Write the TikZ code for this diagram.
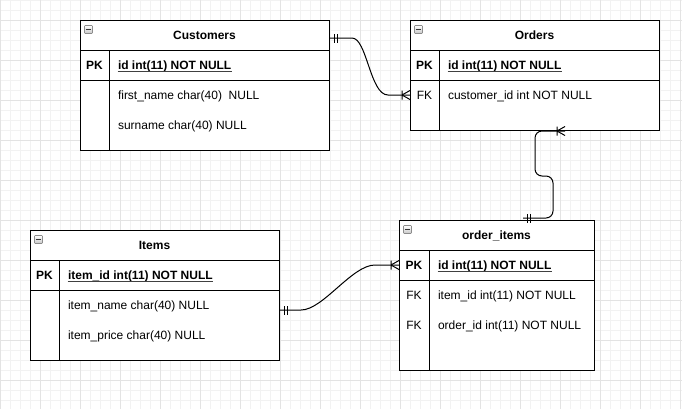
\documentclass[tikz,border=0pt]{standalone}
\usepackage{fontspec}
\setmainfont{Liberation Sans}
\usetikzlibrary{calc,decorations.markings}
\newcommand\erfont{\fontsize{12bp}{14bp}\selectfont}

\tikzset{
  gridminor/.style={draw=black!5,line width=0.6bp},
  gridmajor/.style={draw=black!11,line width=0.6bp},
  tbl/.style={draw,fill=white,anchor=north west,inner sep=0pt},
  title/.style={font=\erfont\bfseries,text height=8.6bp,text depth=0bp,inner sep=0pt},
  pkcell/.style={font=\erfont\bfseries,text height=8.6bp,text depth=0bp,inner sep=0pt},
  fkcell/.style={font=\erfont,text height=8.6bp,text depth=0bp,inner sep=0pt},
  pkfield/.style={anchor=west,font=\erfont\bfseries,text height=8.6bp,text depth=0bp,inner sep=0pt,
    append after command={([yshift=-1.8bp]\tikzlastnode.south west)
      edge[line width=0.8bp,black!75] ([yshift=-1.8bp]\tikzlastnode.south east)}},
  field/.style={anchor=west,font=\erfont,text height=8.6bp,text depth=0bp,inner sep=0pt},
  toggle/.style={draw=black!45,line width=0.6bp,rounded corners=0.8bp,
    top color=white,bottom color=black!22,minimum size=8bp,inner sep=0pt,
    path picture={\draw[line width=1bp,black!80]
      ([xshift=-2.6bp]path picture bounding box.center) --
      ([xshift=2.6bp]path picture bounding box.center);}},
  onestart/.style={postaction={decorate,decoration={markings,
    mark=at position 4.5bp with {\draw[line width=1bp] (0,-4.5bp) -- (0,4.5bp);},
    mark=at position 7.5bp with {\draw[line width=1bp] (0,-4.5bp) -- (0,4.5bp);}}}},
  manyend/.style={postaction={decorate,decoration={markings,
    mark=at position -8bp with {\draw[line width=1bp] (0,-4.5bp) -- (0,4.5bp)
      (0,0) -- (8bp,4.5bp) (0,0) -- (8bp,-4.5bp);}}}}
}

\begin{document}
\begin{tikzpicture}[x=1bp,y=-1bp,line width=1bp]
  \useasboundingbox (0,0) rectangle (682,409);
  \fill[white] (0,0) rectangle (682,409);
  % background grid
  \foreach \x in {0,10,...,680} \draw[gridminor] (\x,0) -- (\x,409);
  \foreach \y in {0,10,...,400} \draw[gridminor] (0,\y) -- (682,\y);
  \foreach \x in {0,40,...,680} \draw[gridmajor] (\x,0) -- (\x,409);
  \foreach \y in {20,60,...,400} \draw[gridmajor] (0,\y) -- (682,\y);

  % Customers
  \node[tbl,minimum width=249bp,minimum height=130bp] (customers) at (80,20) {};
  \draw (80,50) -- (329,50) (80,80) -- (329,80) (109,50) -- (109,150);
  \node[toggle] (cust-toggle) at (88.5,29.5) {};
  \node[title] (cust-title) at (204.5,35) {Customers};
  \node[pkcell] (cust-pk) at (94.5,65) {PK};
  \node[pkfield] (cust-id) at (117.5,65) {id int(11) NOT NULL};
  \node[field] (cust-fname) at (117.5,95) {first\_name char(40)\ \ NULL};
  \node[field] (cust-sname) at (117.5,125) {surname char(40) NULL};

  % Orders
  \node[tbl,minimum width=249bp,minimum height=110bp] (orders) at (410,20) {};
  \draw (410,50) -- (659,50) (410,80) -- (659,80) (439,50) -- (439,130);
  \node[toggle] (ord-toggle) at (418.5,29.5) {};
  \node[title] (ord-title) at (534.5,35) {Orders};
  \node[pkcell] (ord-pk) at (424.5,65) {PK};
  \node[pkfield] (ord-id) at (447.5,65) {id int(11) NOT NULL};
  \node[fkcell] (ord-fkkey) at (424.5,95) {FK};
  \node[field] (ord-fk) at (447.5,95) {customer\_id int NOT NULL};

  % Items
  \node[tbl,minimum width=249bp,minimum height=130bp] (items) at (30,230) {};
  \draw (30,260) -- (279,260) (30,290) -- (279,290) (59,260) -- (59,360);
  \node[toggle] (item-toggle) at (38.5,239.5) {};
  \node[title] (item-title) at (154.5,245) {Items};
  \node[pkcell] (item-pk) at (44.5,275) {PK};
  \node[pkfield] (item-id) at (67.5,275) {item\_id int(11) NOT NULL};
  \node[field] (item-name) at (67.5,305) {item\_name char(40) NULL};
  \node[field] (item-price) at (67.5,335) {item\_price char(40) NULL};

  % order_items
  \node[tbl,minimum width=195bp,minimum height=150bp] (oitems) at (399,220) {};
  \draw (399,250) -- (594,250) (399,280) -- (594,280) (429,250) -- (429,370);
  \node[toggle] (oi-toggle) at (407.5,229.5) {};
  \node[title] (oi-title) at (496.5,235) {order\_items};
  \node[pkcell] (oi-pk) at (414,265) {PK};
  \node[pkfield] (oi-id) at (437.5,265) {id int(11) NOT NULL};
  \node[fkcell] (oi-fkkey1) at (414,295) {FK};
  \node[field] (oi-item) at (437.5,295) {item\_id int(11) NOT NULL};
  \node[fkcell] (oi-fkkey2) at (414,325) {FK};
  \node[field] (oi-order) at (437.5,325) {order\_id int(11) NOT NULL};

  % relations
  \coordinate (c-cust) at ($(customers.north east)+(0,18)$);
  \coordinate (c-item) at ($(items.north east)+(0,80)$);
  \coordinate (c-oi) at ($(oitems.north west)+(124,-2)$);
  \coordinate (c-ord) at ($(orders.south west)+(155,0)$);
  \draw[onestart,manyend] (c-cust) -- ++(22,0)
    .. controls +(15,0) and +(-18,0) .. ($(orders.west |- ord-fk)+(-22,0)$)
    -- (orders.west |- ord-fk);
  \draw[onestart,manyend] (c-item) -- ++(21,0)
    .. controls +(22,0) and +(-23,0) .. ($(oitems.west |- oi-id)+(-24,0)$)
    -- (oitems.west |- oi-id);
  \draw[onestart,manyend,rounded corners=7bp] (c-oi) -- ++(30,0) -- ++(0,-42)
    -- ++(-18,0) |- (c-ord);
\end{tikzpicture}
\end{document}
